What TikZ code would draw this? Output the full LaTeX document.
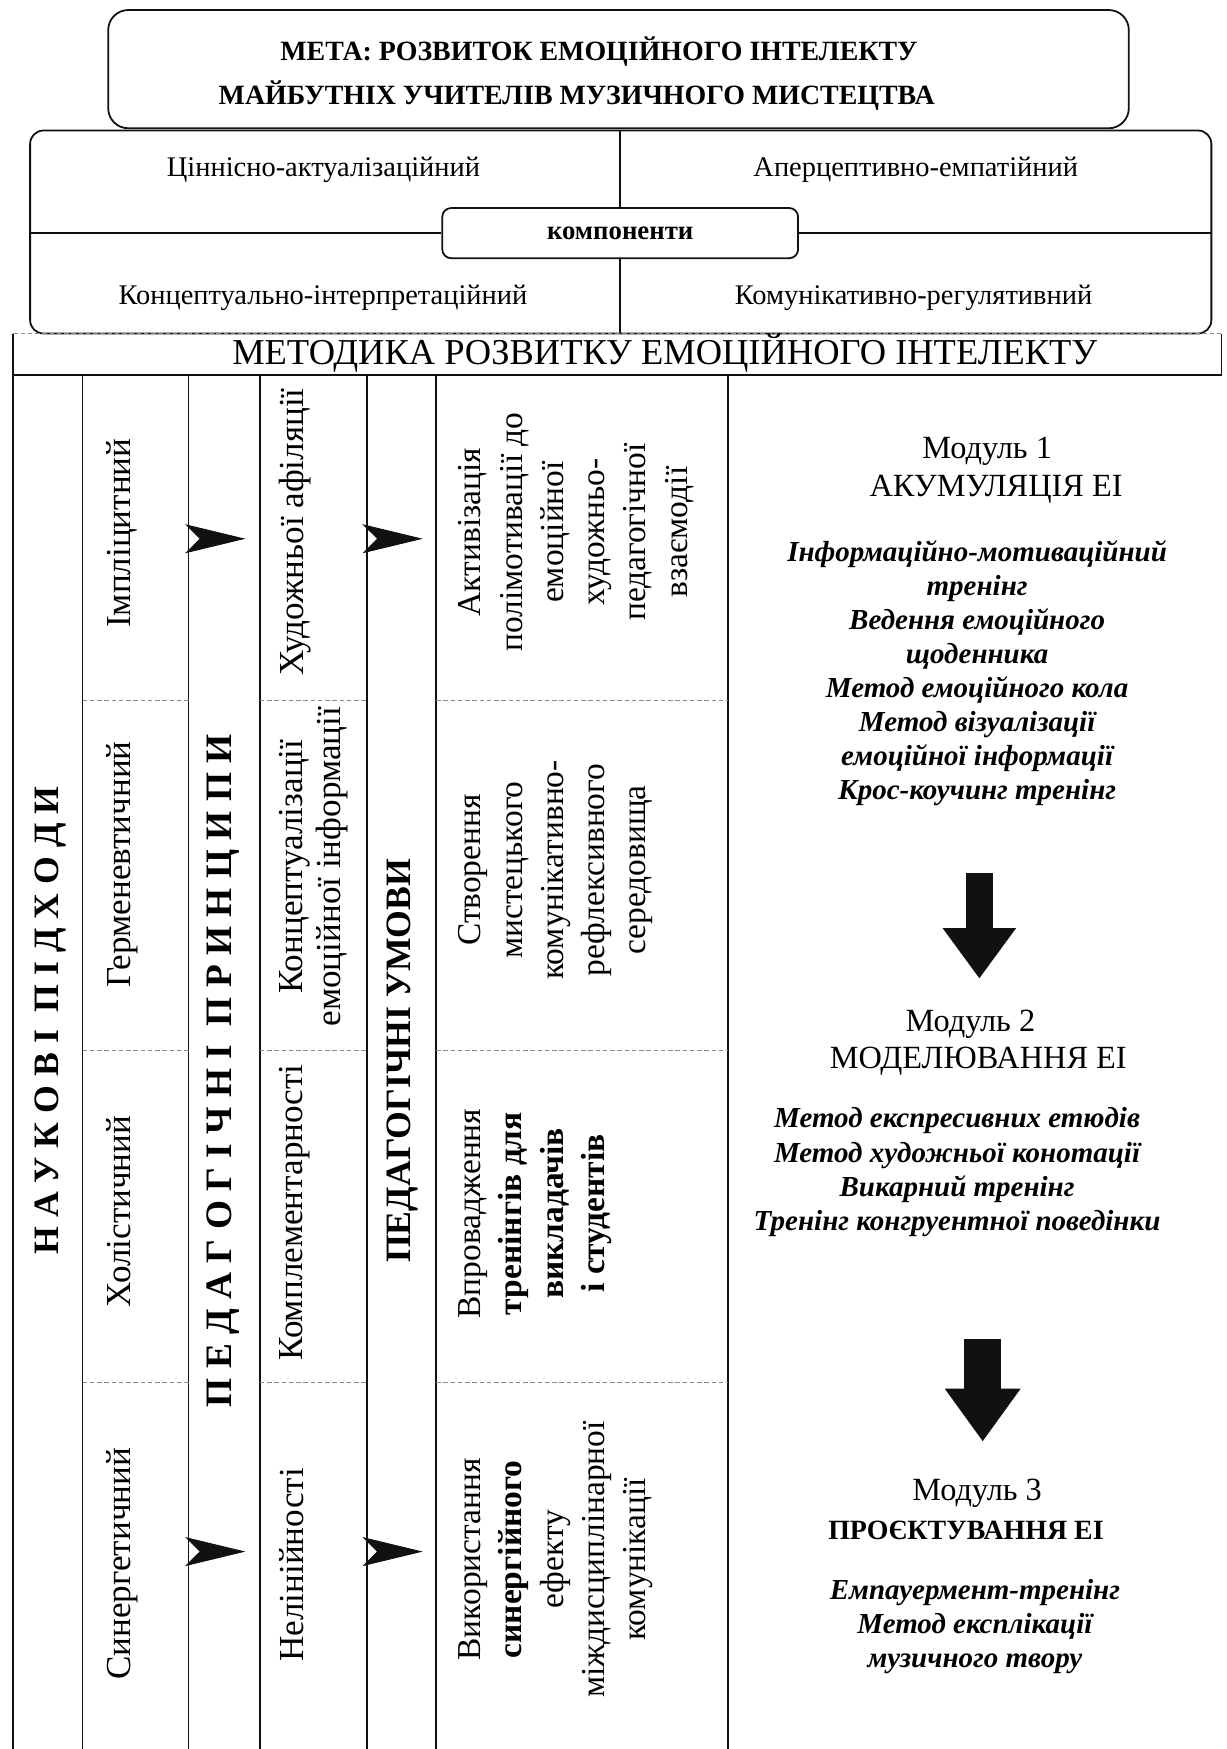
\documentclass[tikz,border=0pt]{standalone}
\usepackage{fontspec}
\setmainfont{Liberation Serif}
\usepackage{tikz}
\usetikzlibrary{arrows.meta}
\definecolor{inkBlack}{HTML}{111111}
\definecolor{sepGrey}{HTML}{8A8A8A}
\tikzset{
  rule/.style    = {draw=inkBlack, line width=1.6pt},
  sep/.style     = {draw=sepGrey, line width=0.8pt, dash pattern=on 4pt off 2.5pt},
  goal/.style    = {draw=inkBlack, line width=1.6pt, rounded corners=18pt},
  panel/.style   = {draw=inkBlack, line width=1.6pt, rounded corners=12pt},
  goaltxt/.style = {font=\fontsize{25}{30}\selectfont\bfseries, anchor=base, inner sep=0pt},
  comp/.style    = {font=\fontsize{25.5}{30}\selectfont, anchor=base, inner sep=0pt},
  head/.style    = {font=\fontsize{32.7}{38}\selectfont, anchor=base, inner sep=0pt},
  vtitle/.style  = {rotate=90, anchor=north, inner sep=0pt, font=\fontsize{32}{36}\selectfont\bfseries},
  vtext/.style   = {rotate=90, anchor=north, inner sep=0pt, align=center, font=\fontsize{31.5}{34}\selectfont},
  vcond/.style   = {rotate=90, anchor=north, inner sep=0pt, align=center, font=\fontsize{30}{37}\selectfont},
  modhead/.style = {font=\fontsize{29}{34}\selectfont, anchor=base, inner sep=0pt},
  meth/.style    = {font=\fontsize{26}{30.5}\selectfont\bfseries\itshape, align=center, anchor=north, inner sep=0pt},
  pointer/.style = {-{Stealth[length=54pt, width=26pt, inset=13pt]}, draw=inkBlack, line width=0.8pt},
  bigflow/.style = {draw=inkBlack}
}

\begin{document}
\begin{tikzpicture}[x=1pt, y=-1pt]
  \useasboundingbox (0,0) rectangle (1100,1568);
  \node[goal, minimum width=915pt, minimum height=106pt] (goalbox) at (554.5,62) {};
  \node[goaltxt] (goal1) at (537,54) {МЕТА: РОЗВИТОК ЕМОЦІЙНОГО ІНТЕЛЕКТУ};
  \node[goaltxt] (goal2) at (517,94) {МАЙБУТНІХ УЧИТЕЛІВ МУЗИЧНОГО МИСТЕЦТВА};
  \node[panel, minimum width=1059pt, minimum height=182pt] (comps) at (556.5,208) {};
  \node[panel, rounded corners=8pt, minimum width=319pt, minimum height=45pt,
        font=\fontsize{24}{30}\selectfont\bfseries] (compsbox) at (556,209) {компоненти};
  \draw[rule] (compsbox.north) -- (compsbox.north |- comps.north)
              (compsbox.south) -- (compsbox.south |- comps.south)
              (compsbox.west) -- (comps.west |- compsbox.west)
              (compsbox.east) -- (comps.east |- compsbox.east);
  \node[comp] (cvalue) at (290,158) {Ціннісно-актуалізаційний};
  \node[comp] (cempat) at (821,158) {Аперцептивно-емпатійний};
  \node[comp] (cconcept) at (289.5,273) {Концептуально-інтерпретаційний};
  \node[comp] (ccommun) at (819,273) {Комунікативно-регулятивний};

  \draw[sep] (12,299) -- (1095,299);
  \draw[rule] (12,299) -- (12,1568) (12,336) -- (1095,336) -- (1095,299);
  \node[head] (method) at (596,327) {МЕТОДИКА РОЗВИТКУ ЕМОЦІЙНОГО ІНТЕЛЕКТУ};
  \draw[rule] (74,336) -- (74,1568) (169,336) -- (169,1568) (233,336) -- (233,1568)
              (329,336) -- (329,1568) (391,336) -- (391,1568) (653,336) -- (653,1568);
  \draw[sep] (74,628) -- (169,628) (233,628) -- (329,628) (391,628) -- (653,628)
             (74,942) -- (169,942) (233,942) -- (329,942) (391,942) -- (653,942)
             (74,1239) -- (169,1239) (233,1239) -- (329,1239) (391,1239) -- (653,1239);

  \node[vtitle] (approaches) at (31,915) {Н А У К О В І\ \ П І Д Х О Д И};
  \node[vtext] (implicit) at (95,478) {Імпліцитний};
  \node[vtext] (hermen) at (95,775) {Герменевтичний};
  \node[vtext] (holist) at (95,1086) {Холістичний};
  \node[vtext] (synerg) at (95,1402) {Синергетичний};
  \node[vtitle, font=\fontsize{33.5}{36}\selectfont\bfseries] (principles) at (185,960)
       {П Е Д А Г О Г І Ч Н І\ \ П Р И Н Ц И П И};
  \node[vtext] (affil) at (250,477) {Художньої афіляції};
  \node[vtext] (concept) at (250,777) {Концептуалізації\\емоційної інформації};
  \node[vtext] (complem) at (250,1087) {Комплементарності};
  \node[vtext] (nonlin) at (250,1403) {Нелінійності};
  \node[vtitle] (conditions) at (347,951) {ПЕДАГОГІЧНІ УМОВИ};
  \node[vcond] (cond1) at (411,477)
       {Активізація\\полімотивації до\\емоційної\\художньо-\\педагогічної\\взаємодії};
  \node[vcond] (cond2) at (411,780)
       {Створення\\мистецького\\комунікативно-\\рефлексивного\\середовища};
  \node[vcond] (cond3) at (411,1088)
       {Впровадження\\\textbf{тренінгів для}\\\textbf{викладачів}\\\textbf{і студентів}};
  \node[vcond] (cond4) at (411,1398)
       {Використання\\\textbf{синергійного}\\ефекту\\міждисциплінарної\\комунікації};

  \coordinate (pa1) at (180,483); \coordinate (pb1) at (220,483);
  \coordinate (pa2) at (340,483); \coordinate (pb2) at (379,483);
  \coordinate (pa3) at (180,1391); \coordinate (pb3) at (220,1391);
  \coordinate (pa4) at (340,1391); \coordinate (pb4) at (379,1391);
  \draw[pointer] (pa1) -- (pb1);
  \draw[pointer] (pa2) -- (pb2);
  \draw[pointer] (pa3) -- (pb3);
  \draw[pointer] (pa4) -- (pb4);

  \node[modhead] (mod1) at (885,411) {Модуль 1};
  \node[modhead] (accum) at (893,445) {АКУМУЛЯЦІЯ ЕІ};
  \node[meth] (m1list) at (876,484) {Інформаційно-мотиваційний\\тренінг\\Ведення емоційного\\щоденника\\Метод емоційного кола\\Метод візуалізації\\емоційної інформації\\Крос-коучинг тренінг};
  \node[modhead] (mod2) at (870,925) {Модуль 2};
  \node[modhead] (model) at (877,958) {МОДЕЛЮВАННЯ ЕІ};
  \node[meth] (m2list) at (858,993) {Метод експресивних етюдів\\Метод художньої конотації\\Викарний тренінг\\Тренінг конгруентної поведінки};
  \node[modhead] (mod3) at (876,1345) {Модуль 3};
  \node[modhead, font=\fontsize{25}{30}\selectfont\bfseries] (design) at (866,1380.5) {ПРОЄКТУВАННЯ ЕІ};
  \node[meth] (m3list) at (874,1416) {Емпауермент-тренінг\\Метод експлікації\\музичного твору};

  \coordinate (fa1) at (878,783); \coordinate (fb1) at (878,877);
  \coordinate (fa2) at (881,1200); \coordinate (fb2) at (881,1292);
  \draw[bigflow, line width=24pt, -{Triangle[length=45pt, width=66pt, line width=0pt]}] (fa1) -- (fb1);
  \draw[bigflow, line width=33pt, -{Triangle[length=47pt, width=68pt, line width=0pt]}] (fa2) -- (fb2);
\end{tikzpicture}
\end{document}
